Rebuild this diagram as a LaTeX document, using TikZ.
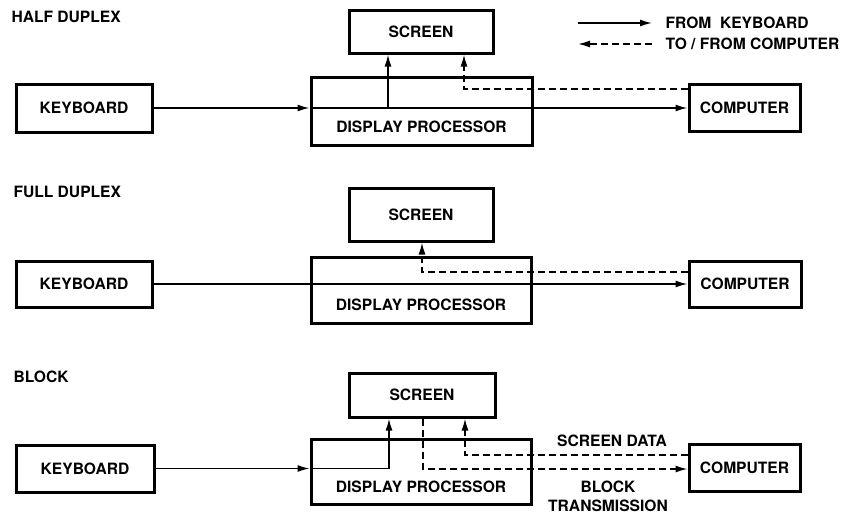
\documentclass[tikz,border=0pt]{standalone}
\usepackage{fontspec}
\setmainfont{TeX Gyre Heros}
\usetikzlibrary{arrows.meta,positioning,calc}

\begin{document}
\begin{tikzpicture}[
    x=1pt,y=-1pt,
    box/.style={draw,line width=3pt,font=\bfseries\fontsize{15.6}{18}\selectfont},
    txt/.style={font=\bfseries\fontsize{15.6}{19}\selectfont},
    arr/.style={-{Latex[length=12pt,width=7pt]},line width=1.5pt},
    dsh/.style={dash pattern=on 7pt off 4pt}
]
\useasboundingbox (0,0) rectangle (846,515);

% half duplex
\node[txt,anchor=west] (hd) at (8,17) {HALF DUPLEX};
\node[box,minimum width=144,minimum height=43] (scr1) at (421,31.5) {SCREEN};
\node[box,minimum width=221,minimum height=68] (dp1) at (421.5,111) {};
\node[txt] at ([yshift=20pt]dp1.south) {DISPLAY PROCESSOR};
\node[box,minimum width=136,minimum height=48] (kb1) at (84,108) {KEYBOARD};
\node[box,minimum width=111,minimum height=47] (cp1) at (744.5,108) {COMPUTER};
\coordinate (t1) at (388,108);
\coordinate (r1) at (464,89);

\draw[arr] (kb1.east) -- (kb1.east -| dp1.west);
\draw[arr] (kb1.east -| dp1.west) -- (cp1.west);
\draw[arr] (t1) -- (t1 |- scr1.south);
\draw[arr,dsh] (cp1.west |- r1) -| (r1 |- scr1.south);

% legend
\node[txt,anchor=west] (lg1) at (662,23) {FROM\ \ KEYBOARD};
\node[txt,anchor=west] (lg2) at (662,44) {TO / FROM COMPUTER};
\coordinate (la) at (578,23);
\draw[arr] (la) -- ([xshift=-10pt]lg1.west);
\draw[arr,dsh] ([xshift=-10pt]lg2.west) -- (lg2.west -| la);

% full duplex
\node[txt,anchor=west] (fd) at (10,192) {FULL DUPLEX};
\node[box,minimum width=144,minimum height=53] (scr2) at (421,214.5) {SCREEN};
\node[box,minimum width=220,minimum height=66] (dp2) at (421,290) {};
\node[txt] at ([yshift=20pt]dp2.south) {DISPLAY PROCESSOR};
\node[box,minimum width=136,minimum height=46] (kb2) at (84,284) {KEYBOARD};
\node[box,minimum width=112,minimum height=46] (cp2) at (745,284) {COMPUTER};
\coordinate (r2) at (422,272);

\draw[arr] (kb2.east) -- (cp2.west);
\draw[arr,dsh] (cp2.west |- r2) -| (r2 |- scr2.south);

% block
\node[txt,anchor=west] (bl) at (10,377) {BLOCK};
\node[box,minimum width=146,minimum height=44] (scr3) at (422,395) {SCREEN};
\node[box,minimum width=220,minimum height=65] (dp3) at (421,471.5) {};
\node[txt] at ([yshift=19pt]dp3.south) {DISPLAY PROCESSOR};
\node[box,minimum width=138,minimum height=47] (kb3) at (85,468.5) {KEYBOARD};
\node[box,minimum width=111,minimum height=47] (cp3) at (744.5,467.5) {COMPUTER};
\coordinate (t3) at (389,468.5);
\coordinate (q3) at (423,469);
\coordinate (r3) at (465,455);

\draw[arr] (kb3.east) -- (kb3.east -| dp3.west);
\draw[arr] (kb3.east -| dp3.west) -| (t3 |- scr3.south);
\draw[arr,dsh] (scr3.south -| q3) |- (cp3.west |- q3);
\draw[arr,dsh] (cp3.west |- r3) -| (r3 |- scr3.south);
\node[txt] (sd) at (612,441) {SCREEN DATA};
\node[txt,align=center] (bt) at (608,496.5) {BLOCK\\TRANSMISSION};
\end{tikzpicture}
\end{document}
